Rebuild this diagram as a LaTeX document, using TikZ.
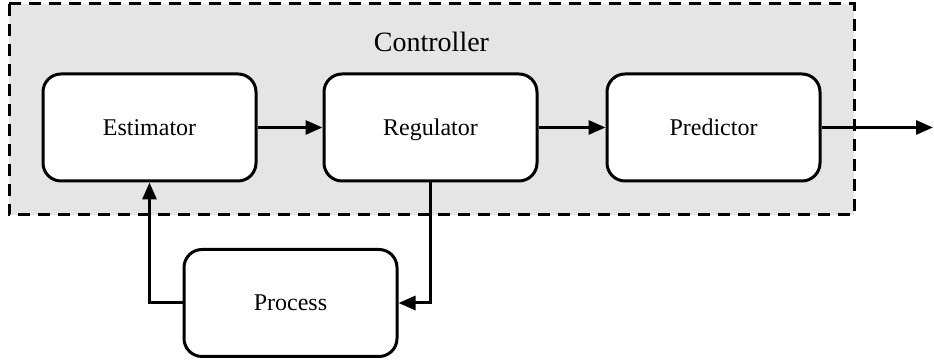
\documentclass[tikz,border=0pt]{standalone}
\usepackage{fontspec}
\setmainfont{Liberation Serif}
\usetikzlibrary{arrows.meta}
\tikzset{
  blockbox/.style={draw, line width=1.5pt, rounded corners=9pt, fill=white,
    minimum width=106.5pt, minimum height=53.5pt, inner sep=0pt,
    text height=7.9pt, text depth=0pt,
    font=\fontsize{12}{14}\selectfont},
  conn/.style={line width=1.5pt, -{Triangle[length=8.5pt,width=7pt]}},
}
\begin{document}
\begin{tikzpicture}[x=0.5pt,y=-0.5pt]
  \useasboundingbox (0,0) rectangle (934,362);
  % controller group frame
  \draw[line width=1.5pt, fill=gray!20, dash pattern=on 6pt off 4pt]
    (9,4) rectangle (854,215);
  \node[font=\fontsize{14}{16}\selectfont] (ctrl) at (431.5,42) {Controller};
  % blocks
  \node[blockbox] (est) at (149.5,127.5) {Estimator};
  \node[blockbox] (reg) at (430.5,127.5) {Regulator};
  \node[blockbox] (pred) at (713.5,127.5) {Predictor};
  \node[blockbox] (proc) at (290.5,303) {Process};
  \coordinate (out) at (933,127.5);
  % connectors
  \draw[conn] (est) -- (reg);
  \draw[conn] (reg) -- (pred);
  \draw[conn] (pred) -- (out);
  \draw[conn] (reg.south) |- (proc.east);
  \draw[conn] (proc.west) -| (est.south);
\end{tikzpicture}
\end{document}
